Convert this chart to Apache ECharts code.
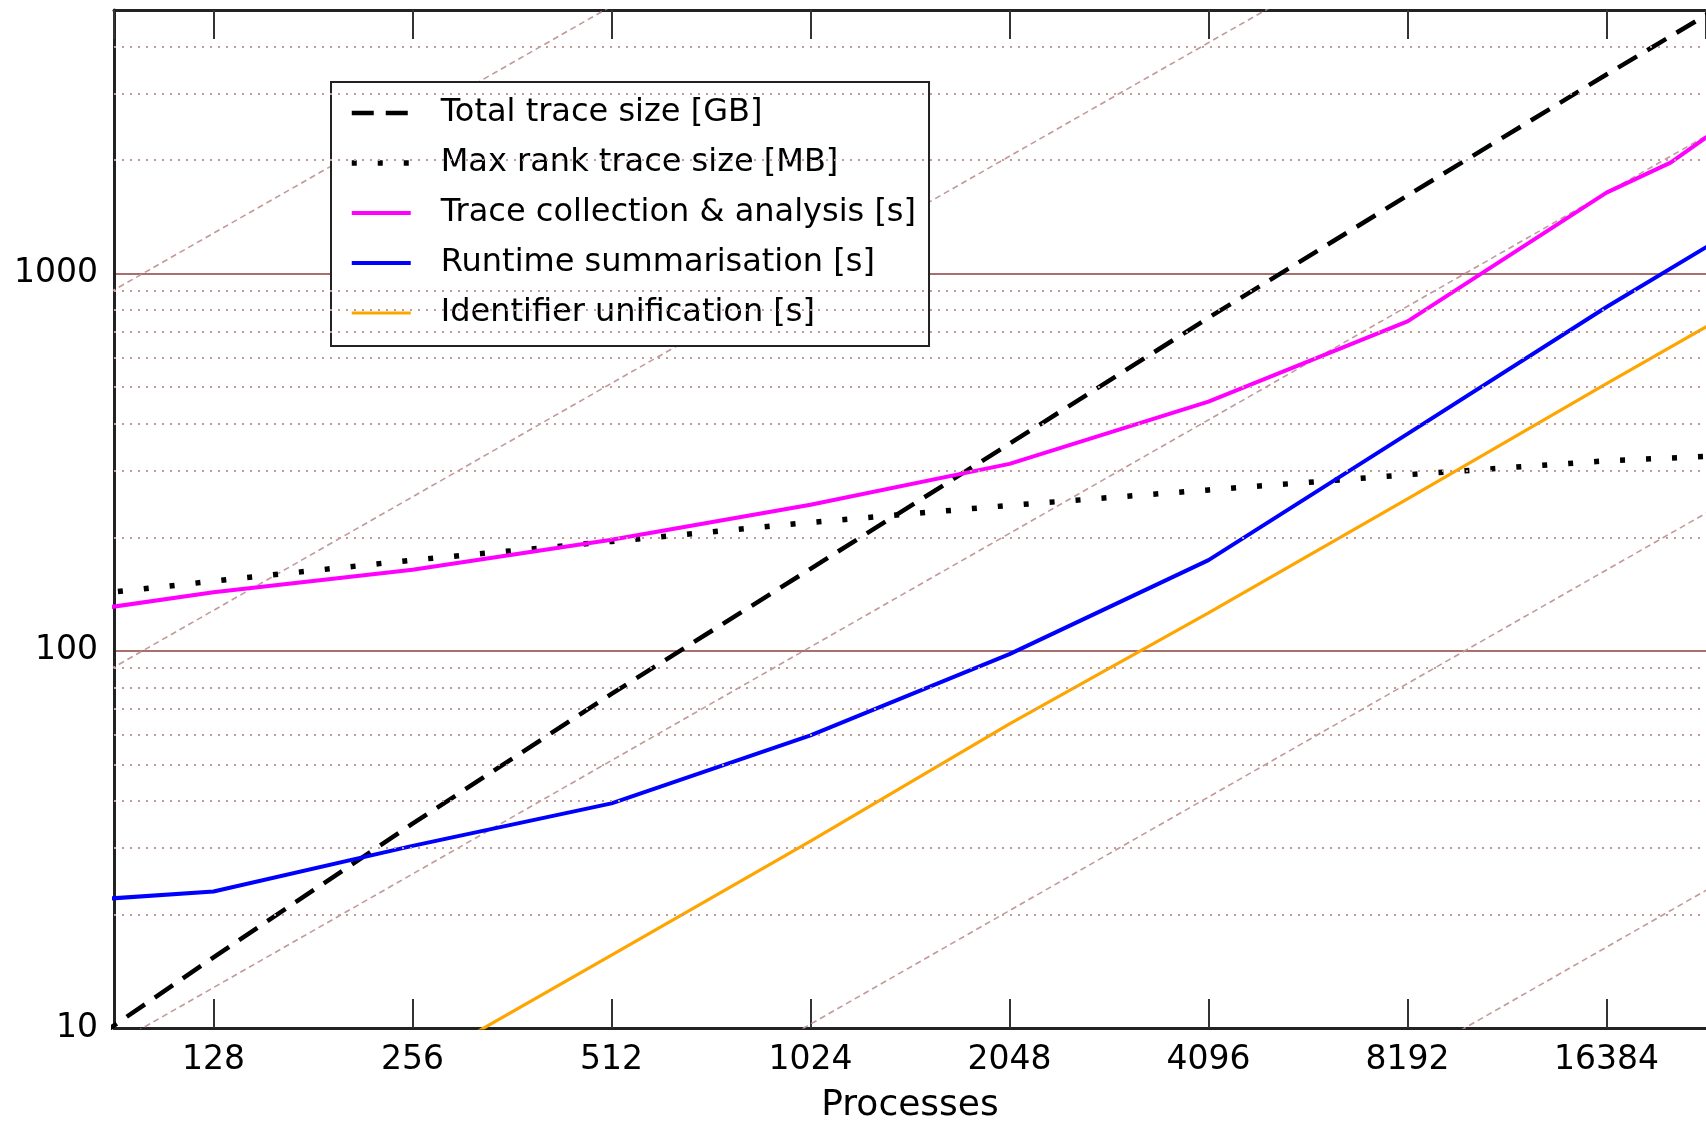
<!DOCTYPE html>
<html>
<head>
<meta charset="utf-8">
<title>Trace size and analysis time vs processes</title>
<script src="https://cdn.jsdelivr.net/npm/echarts@6/dist/echarts.min.js"></script>
<style>
  html, body { margin: 0; padding: 0; background: #fff; }
  #main { width: 1706px; height: 1121px; }
</style>
</head>
<body>
<div id="main"></div>
<script>
// process counts (x axis, log2)
var processes = [64, 128, 256, 512, 1024, 2048, 4096, 8192, 16384, 20480, 24576];

// series values (null = no point)
var totalTraceGB = [6.7, 15.4, 34.8, 76.9, 165, 354, 764, 1611, 3373, null, 5150];
var maxRankMB    = [134, 153, 174, 195, 219, 243, 267, 293, 319, null, 329];
var collectionS  = [120, 143, 164, 197, 244, 313, 458, 747, 1640, 1970, 2470];
var summaryS     = [21.2, 23.0, 30.4, 39.4, 59.7, 98, 174, 376, 816, null, 1250];
var unifyS       = [null, null, 7.8, 15.6, 31.3, 64.0, 126, 253, 511, null, 766];

var seriesNames = [
  'Total trace size [GB]',
  'Max rank trace size [MB]',
  'Trace collection & analysis [s]',
  'Runtime summarisation [s]',
  'Identifier unification [s]'
];

// axis ranges
var xMin = 90.5, xMax = 23170;
var yMin = 10, yMax = 5000;

// dotted minor grid values
var minorGrid = [20, 30, 40, 50, 60, 70, 80, 90,
                 200, 300, 400, 500, 600, 700, 800, 900,
                 2000, 3000, 4000];

// linear-scaling guide lines (y = 10x, x, x/10, x/100, x/1000), end points
var guideLines = [
  [[64, 640], [1024, 10240]],
  [[64, 64], [16384, 16384]],
  [[64, 6.4], [65536, 6553.6]],
  [[512, 5.12], [65536, 655.36]],
  [[4096, 4.096], [65536, 65.536]]
];

var font = 'DejaVu Sans';

function pairs(ys) {
  var out = [];
  for (var i = 0; i < processes.length; i++) {
    if (ys[i] != null) out.push([processes[i], ys[i]]);
  }
  return out;
}

function plainNumber(v) {
  return String(Math.round(v));
}

var chart = echarts.init(document.getElementById('main'), null, { renderer: 'canvas' });

var series = [];

guideLines.forEach(function (g, i) {
  var s = {
    name: 'guide' + i,
    type: 'line',
    data: g,
    symbol: 'none',
    silent: true,
    z: 1,
    lineStyle: { color: '#c29a9a', width: 1.6, type: [6, 4] }
  };
  if (i === 0) {
    s.markLine = {
      silent: true,
      symbol: 'none',
      animation: false,
      label: { show: false },
      lineStyle: { color: '#c79a9a', width: 2, type: [2, 6] },
      data: minorGrid.map(function (v) { return { yAxis: v }; })
    };
  }
  series.push(s);
});

function dataSeries(name, ys, color, width, dash) {
  return {
    name: name, type: 'line', data: pairs(ys), symbol: 'none', z: 3,
    itemStyle: { color: color },
    lineStyle: { color: color, width: width, type: dash || 'solid' }
  };
}

series.push(dataSeries(seriesNames[0], totalTraceGB, '#000000', 4.5, [22, 12]));
series.push(dataSeries(seriesNames[1], maxRankMB, '#000000', 5.5, [5, 21]));
series.push(dataSeries(seriesNames[2], collectionS, '#ff00ff', 4));
series.push(dataSeries(seriesNames[3], summaryS, '#0000ff', 4));
series.push(dataSeries(seriesNames[4], unifyS, '#ffa500', 3.2));

var option = {
  animation: false,
  backgroundColor: '#fff',
  grid: { left: 114, right: 0, top: 10, bottom: 93, containLabel: false, outerBoundsMode: 'none' },
  legend: {
    orient: 'vertical',
    left: 331,
    top: 82,
    data: seriesNames,
    selectedMode: false,
    backgroundColor: '#fff',
    borderColor: '#222',
    borderWidth: 2,
    borderRadius: 0,
    padding: [13, 13, 15, 18],
    itemWidth: 59,
    itemHeight: 14,
    itemGap: 14,
    itemStyle: { opacity: 0 },
    lineStyle: { width: 'inherit', type: 'inherit' },
    textStyle: { fontFamily: font, fontSize: 32, color: '#000', lineHeight: 36, padding: [0, 0, 0, 25] }
  },
  xAxis: [{
    type: 'log', logBase: 2, min: xMin, max: xMax, position: 'bottom',
    name: 'Processes', nameLocation: 'middle', nameGap: 60,
    nameTextStyle: { fontFamily: font, fontSize: 36, color: '#000' },
    axisLine: { lineStyle: { color: '#222', width: 3 } },
    axisTick: { inside: true, length: 29, lineStyle: { color: '#333', width: 2 } },
    axisLabel: { fontFamily: font, fontSize: 33, color: '#000', margin: 16, showMinLabel: false, showMaxLabel: false, formatter: plainNumber },
    splitLine: { show: false }
  }, {
    type: 'log', logBase: 2, min: xMin, max: xMax, position: 'top',
    axisLine: { lineStyle: { color: '#222', width: 3 } },
    axisTick: { inside: true, length: 29, lineStyle: { color: '#333', width: 2 } },
    axisLabel: { show: false },
    splitLine: { show: false }
  }],
  yAxis: {
    type: 'log', logBase: 10, min: yMin, max: yMax,
    axisLine: { show: true, lineStyle: { color: '#222', width: 3 } },
    axisTick: { show: false },
    axisLabel: { fontFamily: font, fontSize: 33, color: '#000', margin: 16, showMaxLabel: false, formatter: plainNumber },
    splitLine: { show: true, lineStyle: { color: '#a86f6f', width: 2 } }
  },
  series: series
};

chart.setOption(option);
</script>
</body>
</html>
